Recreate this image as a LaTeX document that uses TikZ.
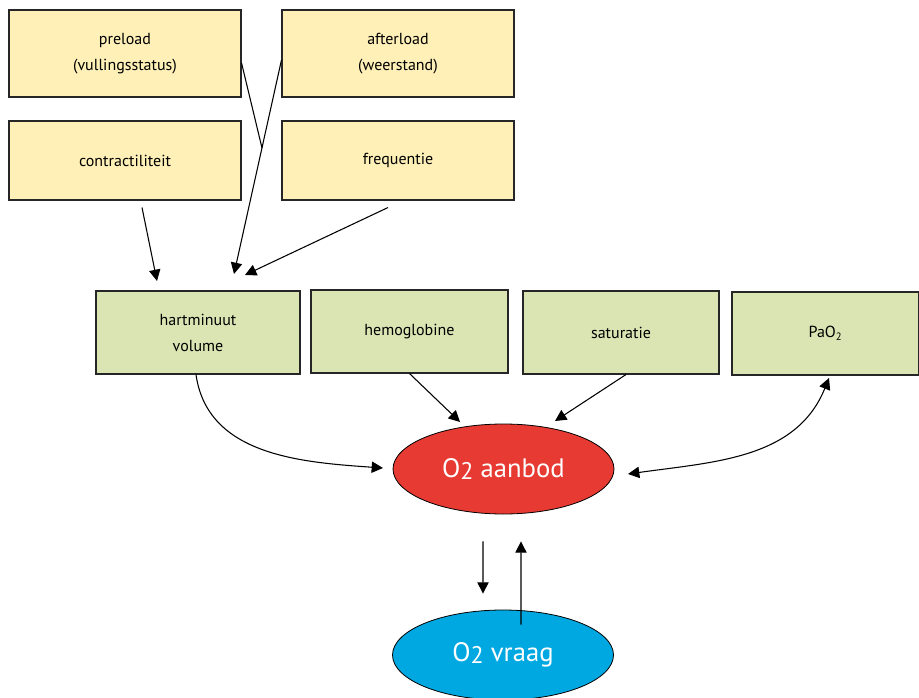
\documentclass[tikz,border=0pt]{standalone}
\usepackage{fontspec}
\setmainfont{PT Sans}
\usetikzlibrary{arrows.meta,shapes.geometric}
\definecolor{geel}{HTML}{FEF0B6}
\definecolor{groen}{HTML}{DAE5B3}
\definecolor{rood}{HTML}{E63A33}
\definecolor{blauw}{HTML}{00A8E2}

\begin{document}
\begin{tikzpicture}[x=0.75pt,y=-0.75pt,
  box/.style={draw=black!85,line width=0.8pt,align=center,inner sep=0pt,
    font=\fontsize{12}{19.5}\selectfont},
  gbox/.style={box,fill=geel,minimum width=174pt},
  kbox/.style={box,fill=groen,minimum height=62.25pt},
  ovaal/.style={ellipse,draw=black,line width=0.6pt,inner sep=0pt,
    minimum width=165.75pt,minimum height=67.5pt,text=white,
    font=\fontsize{20}{24}\selectfont},
  lijn/.style={line width=0.8pt},
  punt/.tip={Triangle[length=8.5pt,width=8.5pt]},
  pijl/.style={lijn,-punt}]
 % \draw[thin,gray!40] (0,0) grid[step=50] (919,698);
  \useasboundingbox (0,0) rectangle (919,698);
  \node[gbox,minimum height=65.25pt] (preload) at (125,53.5) {preload\\(vullingsstatus)};
  \node[gbox,minimum height=65.25pt] (afterload) at (398,53.5) {afterload\\(weerstand)};
  \node[gbox,minimum height=59.25pt] (contract) at (125,160.5) {contractiliteit};
  \node[gbox,minimum height=59.25pt] (freq) at (398,160.5) {frequentie};
  \node[kbox,minimum width=153pt] (hmv) at (198,332.5) {hartminuut\\volume};
  \node[kbox,minimum width=147.75pt] (hb) at (409.5,331.5) {hemoglobine};
  \node[kbox,minimum width=147pt] (sat) at (621,332.5) {saturatie};
  \node[kbox,minimum width=140.25pt] (pao) at (825.5,333.5) {PaO\textsubscript{2}};
  \node[ovaal,fill=rood] (aanbod) at (503.5,469) {O\raisebox{-1.5pt}{\fontsize{18}{18}\selectfont 2} aanbod};
  \node[ovaal,fill=blauw] (vraag) at (503,655) {O\raisebox{-1.5pt}{\fontsize{18}{18}\selectfont 2} vraag};

  \coordinate (kruis) at (262,148);
  \coordinate (hmvA) at (157,281);
  \coordinate (hmvB) at (234,274);
  \coordinate (hmvC) at (245,275);
  \coordinate (aanbodA) at (383,468);
  \coordinate (aanbodB) at (460,422);
  \coordinate (aanbodC) at (555,421);
  \coordinate (aanbodD) at (628,474);
  \coordinate (paoA) at (829,378);

  \draw[lijn] ([yshift=-7.1pt]preload.east) -- (kruis);
  \draw[pijl] ([yshift=-4.9pt]afterload.west) -- (hmvB);
  \draw[pijl] ([xshift=12.75pt,yshift=-5.25pt]contract.south) -- (hmvA);
  \draw[pijl] ([xshift=-7.5pt,yshift=-5.25pt]freq.south) -- (hmvC);
  \draw[pijl] ([xshift=-1.5pt]hmv.south) to[out=-82,in=176] (aanbodA);
  \draw[pijl] (hb.south) -- (aanbodB);
  \draw[pijl] ([xshift=3.75pt]sat.south) -- (aanbodC);
  \draw[lijn,punt-punt] (paoA) to[out=-112,in=8] (aanbodD);
  \draw[pijl] ([xshift=-15.4pt,yshift=-20.25pt]aanbod.south) -- ([xshift=-15pt,yshift=12pt]vraag.north);
  \draw[pijl] ([xshift=13.5pt,yshift=-11.25pt]vraag.north) -- ([xshift=13.1pt,yshift=-20.25pt]aanbod.south);
\end{tikzpicture}
\end{document}
